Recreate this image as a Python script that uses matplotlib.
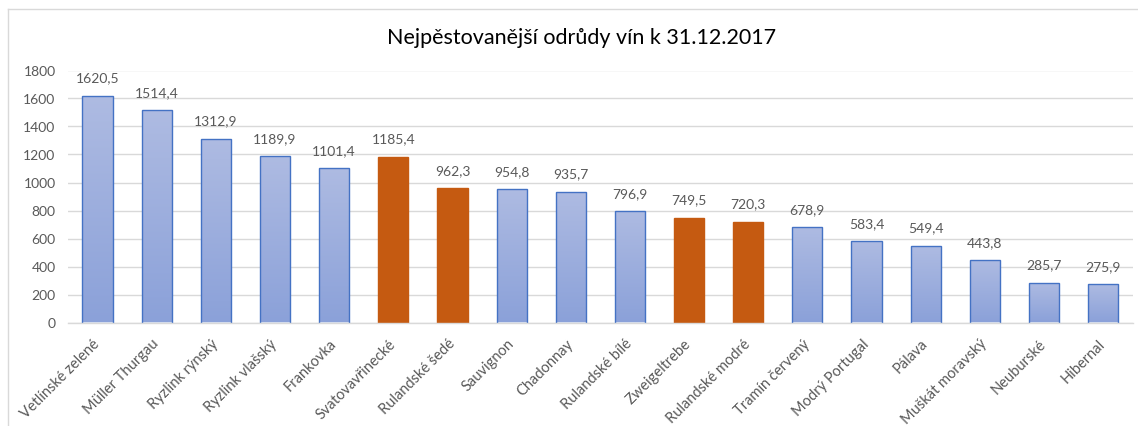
import matplotlib
matplotlib.use("Agg")
import matplotlib.pyplot as plt
import numpy as np
from matplotlib.colors import LinearSegmentedColormap
from matplotlib.lines import Line2D

categories = ["Vetlínské zelené", "Müller Thurgau", "Ryzlink rýnský", "Ryzlink vlašský",
              "Frankovka", "Svatovavřinecké", "Rulandské šedé", "Sauvignon", "Chadonnay",
              "Rulandské bílé", "Zweigeltrebe", "Rulandské modré", "Tramín červený",
              "Modrý Portugal", "Pálava", "Muškát moravský", "Neuburské", "Hibernal"]
values = [1620.5, 1514.4, 1312.9, 1189.9, 1101.4, 1185.4, 962.3, 954.8, 935.7,
          796.9, 749.5, 720.3, 678.9, 583.4, 549.4, 443.8, 285.7, 275.9]
highlighted = ["Svatovavřinecké", "Rulandské šedé", "Zweigeltrebe", "Rulandské modré"]
yticks = [0, 200, 400, 600, 800, 1000, 1200, 1400, 1600, 1800]
title = "Nejpěstovanější odrůdy vín k 31.12.2017"

plt.rcParams['font.family'] = ['Lato', 'DejaVu Sans']

W, H = 1138, 426
fig = plt.figure(figsize=(W / 100, H / 100), dpi=100)
fig.patch.set_facecolor("white")

left, right = 68, 1132.6
top, bottom = 70.5, 322.5
ax = fig.add_axes([left / W, 1 - bottom / H, (right - left) / W, (bottom - top) / H])

grad_cmap = LinearSegmentedColormap.from_list("g", ["#8ba1d9", "#aebbe2"])
gradient = np.linspace(0, 1, 256).reshape(-1, 1)
orange = "#c55a11"
edge_blue = "#4472c4"
bw = 0.51

x = np.arange(len(categories))
bars = ax.bar(x, values, width=bw, zorder=3, linewidth=1.0)
for b, cat, v in zip(bars, categories, values):
    if cat in highlighted:
        b.set_facecolor(orange)
        b.set_edgecolor(orange)
    else:
        b.set_facecolor("none")
        b.set_edgecolor(edge_blue)
        x0 = b.get_x()
        im = ax.imshow(gradient, extent=[x0, x0 + b.get_width(), 0, v], origin="lower",
                       aspect="auto", cmap=grad_cmap, zorder=2, interpolation="bilinear")
        im.set_clip_path(b)
    ax.annotate(f"{v:.1f}".replace(".", ","), (b.get_x() + b.get_width() / 2, v),
                xytext=(0, 8), textcoords="offset points", ha="center", va="bottom",
                fontsize=10, color="#595959")

ax.set_xlim(-0.5, len(categories) - 0.5)
ax.set_ylim(0, 1800)
ax.set_yticks(yticks)
ax.set_yticklabels([str(t) for t in yticks], fontsize=10, color="#595959")
ax.set_xticks(x)
ax.set_xticklabels(categories, rotation=45, ha="right", va="center",
                   rotation_mode="anchor", fontsize=10.5, color="#595959")
ax.tick_params(axis="x", length=0, pad=14)
ax.tick_params(axis="y", length=0, pad=9)
ax.grid(axis="y", color="#d9d9d9", linewidth=1, zorder=0)
ax.set_axisbelow(True)
for s in ["top", "right", "left"]:
    ax.spines[s].set_visible(False)
ax.spines["bottom"].set_color("#d9d9d9")
ax.spines["bottom"].set_linewidth(1)
ax.spines["bottom"].set_zorder(4)

fig.text(582 / W, 1 - 38 / H, title, ha="center", va="center", fontsize=15.5, color="black")

# chart area border (left and top visible)
fig.add_artist(Line2D([8 / W, 8 / W], [0, 1 - 9 / H], color="#d9d9d9", linewidth=1,
                      transform=fig.transFigure))
fig.add_artist(Line2D([8 / W, 1], [1 - 9 / H, 1 - 9 / H], color="#d9d9d9", linewidth=1,
                      transform=fig.transFigure))

fig.savefig("out.png", dpi=100)
